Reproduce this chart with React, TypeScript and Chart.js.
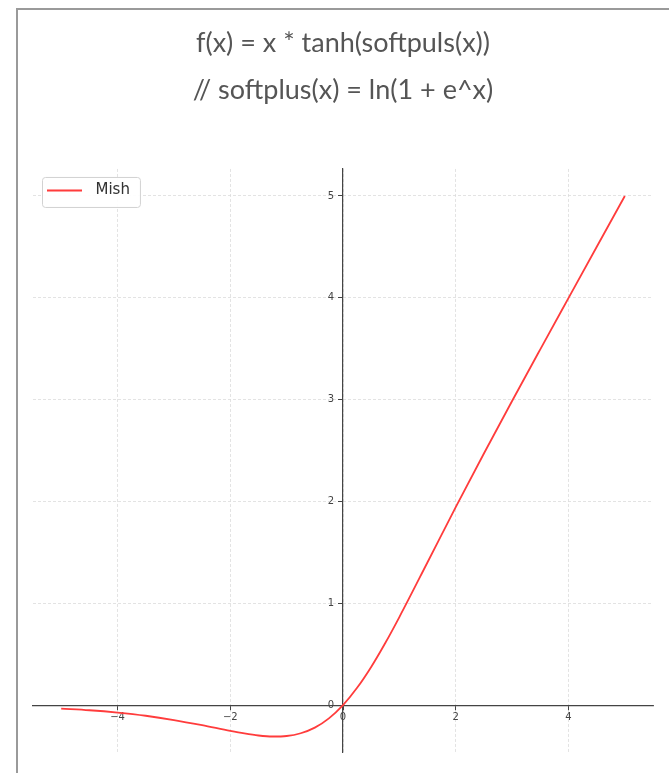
import React, { useEffect, useRef } from "react";
import { Chart, registerables } from "chart.js";

Chart.register(...registerables);

const titleLines = ["f(x) = x * tanh(softpuls(x))", "// softplus(x) = ln(1 + e^x)"];
const seriesLabel = "Mish";
const xValues = [-5, -4.5, -4, -3.5, -3, -2.5, -2, -1.75, -1.5, -1.25, -1, -0.75, -0.5, -0.25, 0, 0.25, 0.5, 0.75, 1, 1.5, 2, 2.5, 3, 3.5, 4, 4.5, 5];
const mishValues = [-0.034, -0.05, -0.073, -0.104, -0.146, -0.197, -0.253, -0.278, -0.298, -0.308, -0.303, -0.276, -0.221, -0.13, 0, 0.17, 0.375, 0.61, 0.865, 1.403, 1.944, 2.471, 2.987, 3.494, 3.997, 4.499, 5.0];
const xTicks = [-4, -2, 0, 2, 4];
const yTicks = [0, 1, 2, 3, 4, 5];
const xRange = [-5.5, 5.5];
const yRange = [-0.46, 5.265];

const lineColor = "#ff3c3c";
const fmt = (v: number) => String(v).replace("-", "\u2212");

// moves the centered y-axis labels to the left of the spine, and the legend into the plot's top-left
const axisAndLegend = {
  id: "axisAndLegend",
  afterLayout(chart: any) {
    const lg = chart.legend;
    if (lg) {
      const dy = chart.chartArea.top - lg.top;
      lg.top += dy;
      lg.bottom += dy;
      (lg.legendHitBoxes || []).forEach((h: any) => (h.top += dy));
    }
  },
  beforeDraw(chart: any) {
    const ys = chart.scales.y;
    const items = ys.getLabelItems(chart.chartArea);
    items.forEach((it: any) => {
      it.options.translation = [it.options.translation[0] - 9, it.options.translation[1]];
    });
  },
  afterDraw(chart: any) {
    const lg = chart.legend;
    if (!lg || !lg.legendHitBoxes || !lg.legendHitBoxes.length) return;
    const hb = lg.legendHitBoxes[0];
    const ctx = chart.ctx;
    const x = hb.left - 5;
    const y = hb.top - 6;
    const w = hb.width + 15;
    const h = hb.height + 15;
    ctx.save();
    ctx.beginPath();
    (ctx as any).roundRect(x + 0.5, y + 0.5, w, h, 3);
    ctx.fillStyle = "rgba(255,255,255,0.92)";
    ctx.fill();
    ctx.strokeStyle = "#d2d2d2";
    ctx.lineWidth = 1;
    ctx.stroke();
    ctx.restore();
    lg.draw();
  },
};

export default function App() {
  const ref = useRef<HTMLCanvasElement | null>(null);
  useEffect(() => {
    if (!ref.current) return;
    const sample = document.createElement("canvas");
    sample.width = 41;
    sample.height = 4;
    const sctx = sample.getContext("2d")!;
    sctx.strokeStyle = lineColor;
    sctx.lineWidth = 1.8;
    sctx.beginPath();
    sctx.moveTo(0, 2);
    sctx.lineTo(35, 2);
    sctx.stroke();

    const chart = new Chart(ref.current, {
      type: "line",
      data: {
        datasets: [
          {
            label: seriesLabel,
            data: xValues.map((x, i) => ({ x, y: mishValues[i] })),
            borderColor: lineColor,
            backgroundColor: lineColor,
            borderWidth: 1.8,
            pointRadius: 0,
            pointStyle: sample,
            cubicInterpolationMode: "monotone",
            fill: false,
          },
        ],
      },
      options: {
        responsive: false,
        animation: false,
        devicePixelRatio: 1,
        layout: { padding: { left: 33, right: 16, top: 0, bottom: 21 } },
        plugins: {
          title: {
            display: true,
            text: titleLines,
            color: "#555",
            font: { family: "Lato", size: 27, weight: "normal", lineHeight: 1.74 },
            padding: { top: 20, bottom: 55 },
          },
          legend: {
            display: true,
            position: "chartArea" as any,
            align: "start",
            labels: {
              usePointStyle: true,
              pointStyleWidth: 41,
              color: "#333",
              font: { family: "DejaVu Sans", size: 15 },
              padding: 14,
            },
          },
          tooltip: { enabled: false },
        },
        scales: {
          x: {
            type: "linear",
            position: { y: 0 } as any,
            min: xRange[0],
            max: xRange[1],
            afterBuildTicks: (s: any) => {
              s.ticks = xTicks.map((v) => ({ value: v }));
            },
            afterFit: (s: any) => {
              s.height = 0;
            },
            ticks: {
              callback: (v: any) => fmt(v),
              color: "#444",
              font: { family: "DejaVu Sans", size: 10 },
              padding: 2,
              maxRotation: 0,
              autoSkip: false,
            },
            grid: {
              color: "#dcdcdc",
              lineWidth: 0.8,
              tickColor: "#444",
              tickLength: 4,
              tickWidth: 1,
            },
            border: { color: "#444", width: 1.2, dash: [3, 2] },
          },
          y: {
            type: "linear",
            position: { x: 0 } as any,
            min: yRange[0],
            max: yRange[1],
            afterBuildTicks: (s: any) => {
              s.ticks = yTicks.map((v) => ({ value: v }));
            },
            afterFit: (s: any) => {
              s.width = 0;
            },
            ticks: {
              callback: (v: any) => fmt(v),
              color: "#444",
              font: { family: "DejaVu Sans", size: 10 },
              padding: 5,
              autoSkip: false,
            },
            grid: {
              color: "#dcdcdc",
              lineWidth: 0.8,
              tickColor: "#444",
              tickLength: 4,
              tickWidth: 1,
            },
            border: { color: "#444", width: 1.2, dash: [3, 2] },
          },
        },
      },
      plugins: [axisAndLegend],
    } as any);
    return () => chart.destroy();
  }, []);

  return (
    <div style={{ position: "fixed", left: 0, top: 0, width: 669, height: 773, background: "#fff" }}>
      <div
        style={{
          position: "absolute",
          left: 16,
          top: 8,
          right: 0,
          bottom: 0,
          borderLeft: "2px solid #9a9a9a",
          borderTop: "2px solid #9a9a9a",
        }}
      />
      <canvas ref={ref} width={669} height={773} style={{ position: "absolute", left: 0, top: 0, width: 669, height: 773 }} />
    </div>
  );
}
